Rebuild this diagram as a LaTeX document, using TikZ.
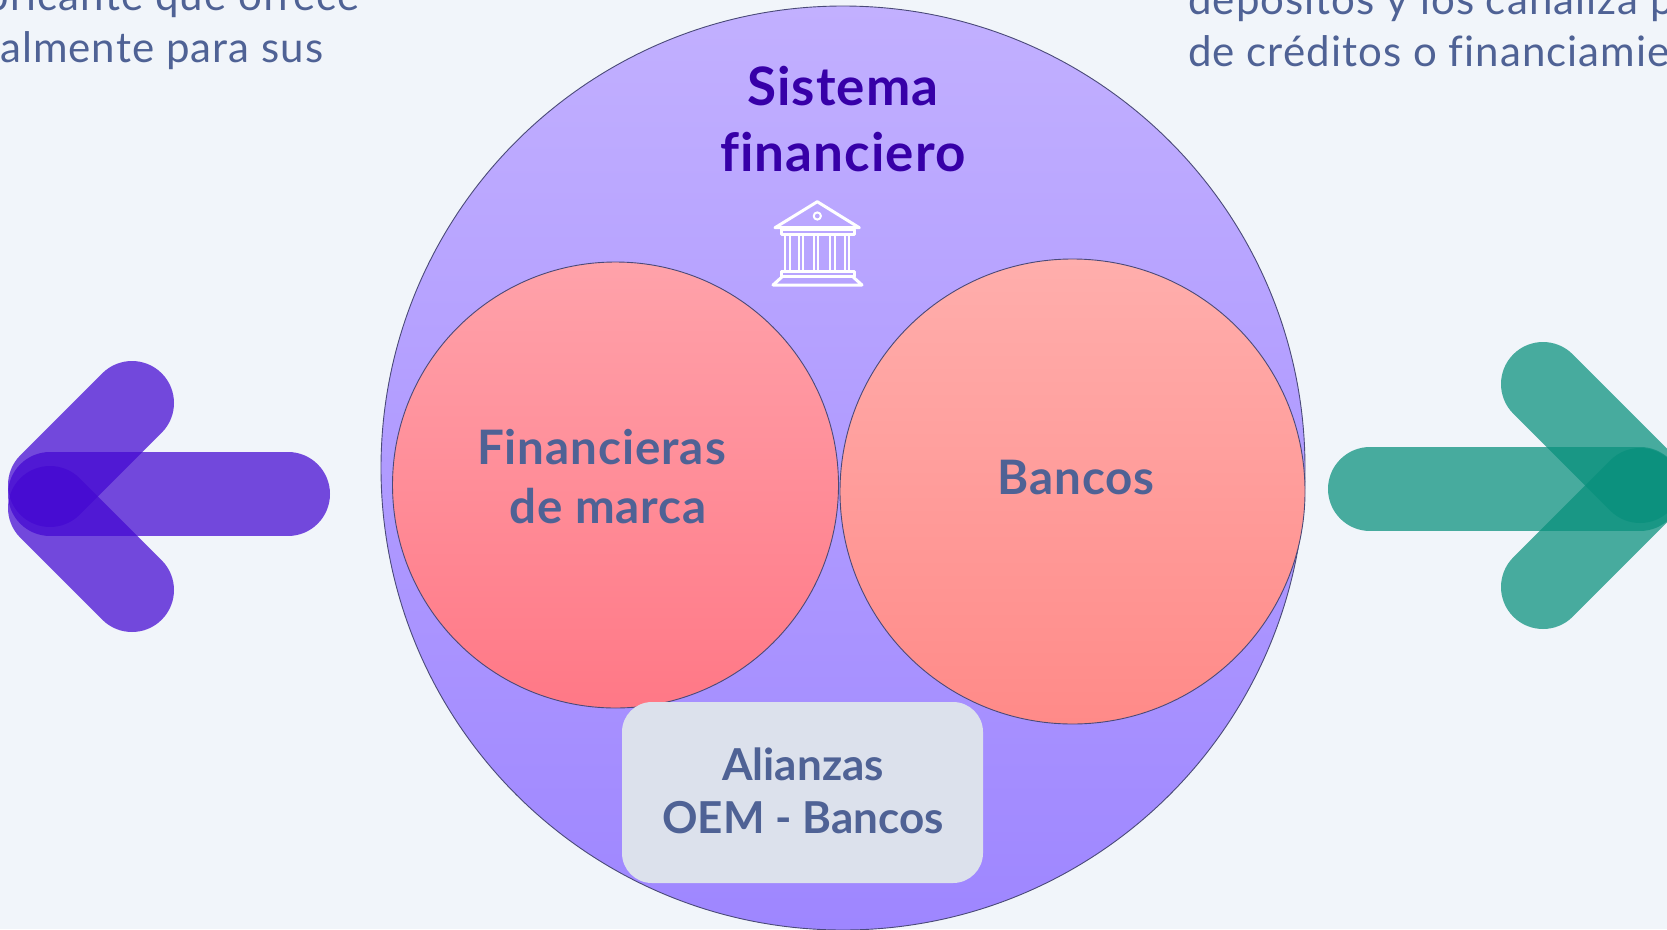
\documentclass[tikz,border=0pt]{standalone}
\usepackage{fontspec}
\setmainfont{Lato}
\newfontfamily\bodyfont[LetterSpace=2.5,Ligatures=NoCommon]{Lato}
\newfontfamily\labfont[LetterSpace=2,Ligatures=NoCommon,BoldFont=*]{Lato Bold}
\definecolor{bgc}{HTML}{F1F5FA}
\definecolor{txt}{HTML}{4F6295}
\definecolor{head}{HTML}{3700A8}
\definecolor{vio}{HTML}{4408D2}
\definecolor{teal}{HTML}{08907C}
\definecolor{ringc}{HTML}{4A4A78}
\tikzset{
  x=1pt,y=-1pt,
  armv/.style={line width=84pt,line cap=round,opacity=.73,draw=vio},
  armt/.style={line width=84pt,line cap=round,opacity=.73,draw=teal},
  ring/.style={draw=ringc,line width=.9pt},
  body/.style={font=\fontsize{42}{42}\bodyfont,text=txt,inner sep=0pt,anchor=base west},
  lab/.style={font=\fontsize{44}{44}\selectfont\bfseries,text=txt,inner sep=0pt,anchor=base},
  biglab/.style={font=\fontsize{47.5}{47.5}\labfont,text=txt,inner sep=0pt,anchor=base},
  hd/.style={font=\fontsize{53}{53}\labfont,text=head,inner sep=0pt,anchor=base},
  ico/.style={draw=white,line width=3pt,line join=round}
}
\begin{document}
\begin{tikzpicture}
\useasboundingbox (0,0) rectangle (1667,929);
\clip (0,0) rectangle (1667,929);
\fill[bgc] (0,0) rectangle (1667,929);
% texts
\node[body,anchor=base east] (t1) at (360,10) {bricante que ofrece};
\node[body] (t2) at (0,62) {almente para sus};
\node[body] (t3) at (1188,14) {depósitos y los canaliza p};
\node[body] (t4) at (1188,66) {de créditos o financiamie};
% left arrow
\draw[armv] (50,494) -- (288,494);
\draw[armv] (132,403) -- (50,485);
\draw[armv] (132,590) -- (50,508);
% right arrow
\draw[armt] (1370,489) -- (1640,489);
\draw[armt] (1543,384) -- (1640,481);
\draw[armt] (1543,587) -- (1640,490);
% circles
\shade[top color={rgb,255:red,194;green,176;blue,255},bottom color={rgb,255:red,158;green,134;blue,255},ring] (843,468) circle (462);
\shade[top color={rgb,255:red,255;green,162;blue,170},bottom color={rgb,255:red,255;green,120;blue,134},ring] (615.5,485) circle (223);
\shade[top color={rgb,255:red,255;green,174;blue,172},bottom color={rgb,255:red,255;green,138;blue,136},ring] (1072.5,491.5) circle (232.5);
% box
\fill[fill={rgb,255:red,220;green,225;blue,236},rounded corners=30pt] (622,702) rectangle (983,883);
% labels
\node[hd] (h1) at (843,105) {Sistema};
\node[hd] (h2) at (843,171) {financiero};
\node[biglab] (l1) at (601.5,464) {Financieras};
\node[biglab] (l2) at (608,523) {de marca};
\node[biglab] (l3) at (1076,494) {Bancos};
\node[lab] (l4) at (803,780) {Alianzas};
\node[lab] (l5) at (803,833) {OEM - Bancos};
% icon
\draw[ico] (817.3,201.7) -- (775,227.7) -- (859.3,227.7) -- cycle;
\draw[ico,line width=2pt] (817.3,216) circle (3.6);
\draw[ico] (781,229) rectangle (854,234);
\foreach \xa in {785,790,799,803,814,818,830,835,845,849}{
  \draw[ico,line width=2.4pt] (\xa,234) -- (\xa,271);
}
\draw[ico] (781,271) rectangle (854,276);
\draw[ico] (783,276) -- (773,285) -- (862,285) -- (852,276);
\end{tikzpicture}
\end{document}
